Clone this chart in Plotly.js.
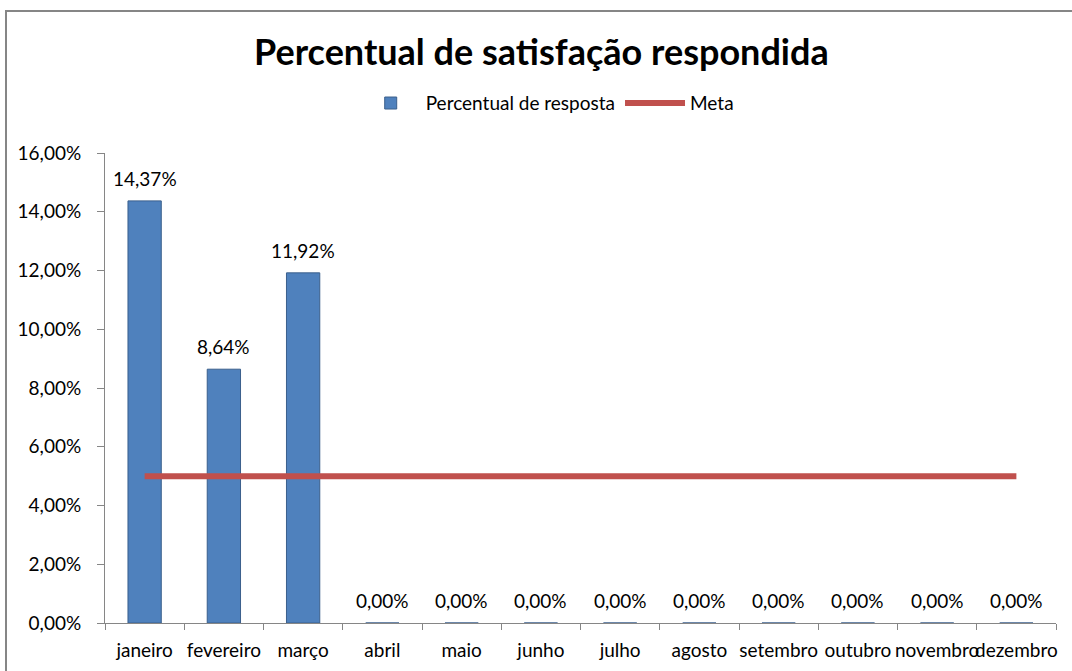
<!DOCTYPE html>
<html><head><meta charset="utf-8">
<script src="https://cdn.plot.ly/plotly-3.0.1.min.js"></script>
<style>
html,body{margin:0;padding:0;background:#fff;}
#wrap{position:relative;width:1072px;height:671px;overflow:hidden;}
#chart{width:1072px;height:671px;}
#frame{position:absolute;left:5px;top:10px;width:1200px;height:800px;border:2px solid #868686;pointer-events:none;box-sizing:border-box;}
</style></head>
<body><div id="wrap"><div id="chart"></div><div id="frame"></div></div>
<script>
const months = ["janeiro","fevereiro","março","abril","maio","junho","julho","agosto","setembro","outubro","novembro","dezembro"];
const respostas = [0.1437,0.0864,0.1192,0,0,0,0,0,0,0,0,0];
const meta = [0.05,0.05,0.05,0.05,0.05,0.05,0.05,0.05,0.05,0.05,0.05,0.05];
const yTicks = [0,0.02,0.04,0.06,0.08,0.10,0.12,0.14,0.16];

const font = "Lato, 'Noto Sans', sans-serif";
const traces = [
 {type:"bar", x:months, y:respostas, name:"Percentual de resposta",
  marker:{color:"#4F81BD", line:{color:"#3A5F8C", width:1}}, hoverinfo:"skip"},
 {type:"scatter", mode:"lines", x:months, y:meta, name:"Meta",
  line:{color:"#C0504D", width:6}, hoverinfo:"skip"}
];
const labels = months.map((m,i)=>({
  x:i, y:respostas[i], xref:"x", yref:"y", yanchor:"bottom", yshift:9, showarrow:false,
  text:(respostas[i]*100).toFixed(2).replace(".",",")+"%",
  font:{family:font,size:19,color:"#000"}
}));
const layout = {
 width:1072, height:671,
 margin:{l:105, r:16, t:153, b:48},
 paper_bgcolor:"#fff", plot_bgcolor:"#fff",
 separators:",.",
 font:{family:font, size:19, color:"#000"},
 title:{text:"<b>Percentual de satisfação respondida</b>", font:{family:font,size:36,color:"#000"}, x:0.505, xanchor:"center", y:0.922, yanchor:"middle"},
 showlegend:true,
 legend:{orientation:"h", x:0.465, xanchor:"center", y:1.106, yanchor:"middle", font:{family:font,size:19,color:"#000"}, traceorder:"normal", itemwidth:60},
 annotations:labels,
 bargap:0.58,
 xaxis:{type:"category", categoryarray:months, range:[-0.5,11.5], tickangle:0, showline:true, linecolor:"#868686", linewidth:1, ticks:"outside", tickson:"boundaries", ticklen:6, tickcolor:"#868686", ticklabelstandoff:10, showgrid:false, tickfont:{family:font,size:19,color:"#000"}, fixedrange:true},
 yaxis:{range:[0,0.16], tickvals:yTicks, tickformat:".2%", showline:true, linecolor:"#868686", linewidth:1, ticks:"outside", ticklen:7, tickcolor:"#868686", ticklabelstandoff:12, showgrid:false, zeroline:false, tickfont:{family:font,size:19,color:"#000"}, fixedrange:true}
};
Plotly.newPlot("chart", traces, layout, {displayModeBar:false, staticPlot:true});
</script></body></html>
